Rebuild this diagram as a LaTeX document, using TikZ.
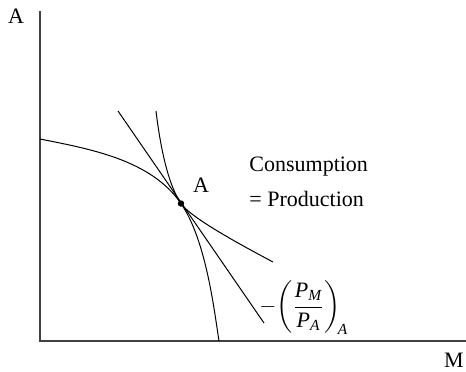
\documentclass[tikz,border=0pt]{standalone}
\usepackage{amsmath}
\usepackage{fontspec}
\setmainfont{Liberation Serif}
\begin{document}
\begin{tikzpicture}[x=0.5pt,y=-0.5pt,font=\fontsize{11}{13}\selectfont,
    axis/.style={line width=0.7pt,black!75},
    curve/.style={line width=0.5pt,black}]
  \useasboundingbox (0,0) rectangle (466,371);
  % axes
  \coordinate (ytop) at (40,11);
  \coordinate (origin) at (40,341);
  \coordinate (xend) at (466,341);
  \draw[axis] (ytop) -- (origin) -- (xend);
  \node[anchor=base] (ylab) at (16,23.5) {A};
  \node[anchor=base] (xlab) at (454,367) {M};
  % point of tangency
  \node[circle,fill,inner sep=0pt,minimum size=3.2pt] (ptA) at (181,203.5) {};
  \node[anchor=base] (ptAlab) at (201,192) {A};
  % production frontier and indifference curve
  \coordinate (ppfTop) at (40,139);
  \coordinate (ppfEnd) at (219,341);
  \coordinate (icTop) at (156,111);
  \coordinate (icEnd) at (273,262);
  \draw[curve] (ppfTop) .. controls (90,149) and (151,159.7) .. (ptA.center)
    .. controls (206,240) and (214,309) .. (ppfEnd);
  \draw[curve] (icTop) .. controls (159,136) and (166,181.6) .. (ptA.center)
    .. controls (191,218.1) and (243,246) .. (icEnd);
  % price line
  \coordinate (tanTop) at (118,111);
  \coordinate (tanEnd) at (264,323);
  \draw[curve] (tanTop) -- (tanEnd);
  \node[anchor=base west,inner sep=0pt] (cons) at (249,171.5) {Consumption};
  \node[anchor=base west,inner sep=0pt] (prod) at (249,206.5) {= Production};
  \node[anchor=base west,inner sep=0pt] (slope) at (259,312.5) {$\displaystyle -\!\left(\frac{\textit{P}_{\textit{M}}}{\textit{P}_{\textit{A}}}\right)_{\!\textit{A}}$};
\end{tikzpicture}
\end{document}
